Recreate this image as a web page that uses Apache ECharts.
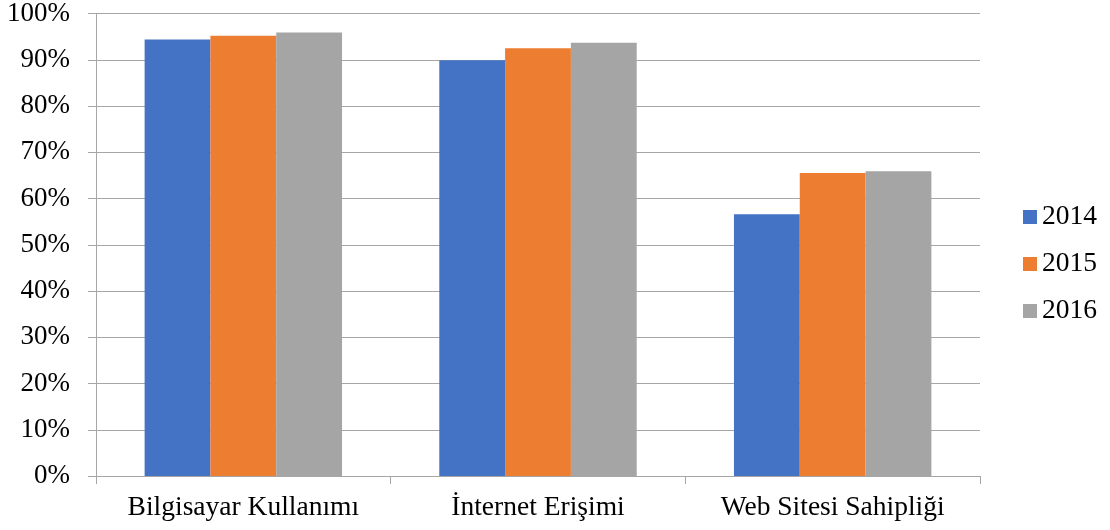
<!DOCTYPE html>
<html><head><meta charset="utf-8">
<script src="https://cdn.jsdelivr.net/npm/echarts@6/dist/echarts.min.js"></script>
<style>html,body{margin:0;padding:0;background:#fff}#c{width:1110px;height:530px}</style>
</head><body><div id="c"></div>
<script>
const categories = ['Bilgisayar Kullanımı', 'İnternet Erişimi', 'Web Sitesi Sahipliği'];
const years = ['2014', '2015', '2016'];
const v2014 = [94.4, 89.9, 56.6];
const v2015 = [95.2, 92.5, 65.5];
const v2016 = [95.9, 93.7, 65.9];
const colors = ['#4472C4', '#ED7D31', '#A5A5A5'];
const font = 'Liberation Serif';
const chart = echarts.init(document.getElementById('c'));
chart.setOption({
  animation: false,
  color: colors,
  grid: {left: 96, right: 130, top: 13, bottom: 54},
  legend: {
    orient: 'vertical', left: 1018, top: 198,
    itemWidth: 14, itemHeight: 14, itemGap: 19,
    icon: 'rect',
    textStyle: {fontFamily: font, fontSize: 27.5, color: '#000', lineHeight: 27},
    data: years
  },
  xAxis: {
    type: 'category', data: categories,
    axisLine: {lineStyle: {color: '#a6a6a6', width: 1}},
    axisTick: {show: true, interval: 0, length: 8, lineStyle: {color: '#a6a6a6'}},
    axisLabel: {interval: 0, hideOverlap: false, fontFamily: font, fontSize: 27.5, color: '#000', margin: 18}
  },
  yAxis: {
    type: 'value', min: 0, max: 100, interval: 10,
    axisLine: {show: true, lineStyle: {color: '#a6a6a6'}},
    axisTick: {show: true, length: 8, lineStyle: {color: '#a6a6a6'}},
    splitLine: {lineStyle: {color: '#a6a6a6'}},
    axisLabel: {fontFamily: font, fontSize: 27, color: '#000', margin: 26, formatter: '{value}%'}
  },
  series: [
    {name: years[0], type: 'bar', data: v2014, barGap: '0%', barCategoryGap: '33%'},
    {name: years[1], type: 'bar', data: v2015, barGap: '0%', barCategoryGap: '33%'},
    {name: years[2], type: 'bar', data: v2016, barGap: '0%', barCategoryGap: '33%'}
  ]
});
</script></body></html>
